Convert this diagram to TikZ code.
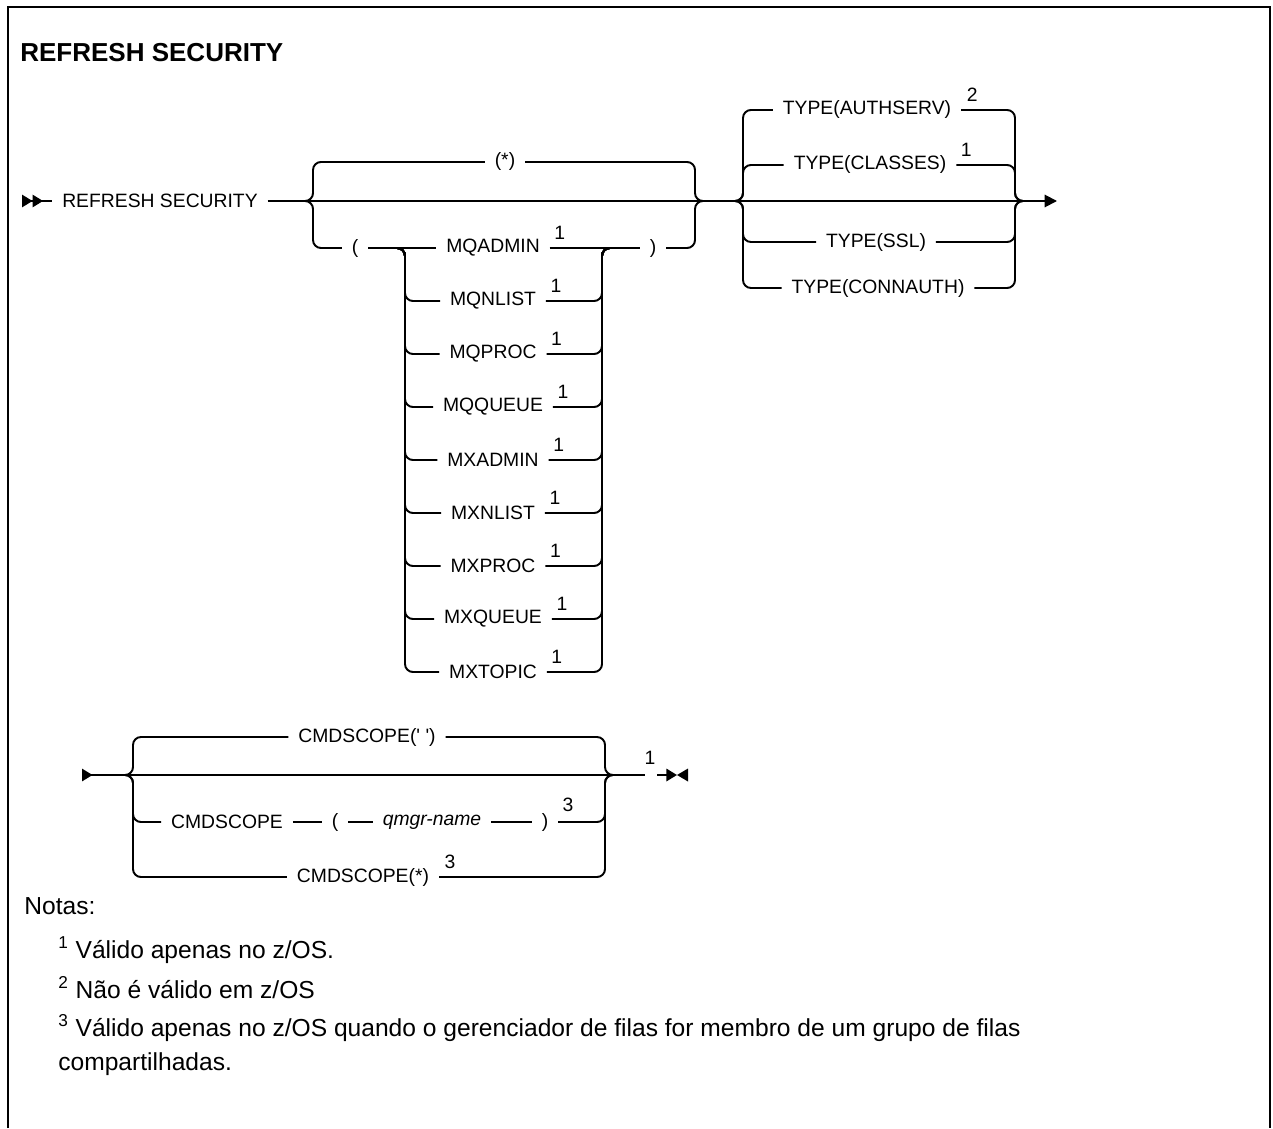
\documentclass[tikz,border=0pt]{standalone}
\usepackage{fontspec}
\setmainfont{Liberation Sans}
\usetikzlibrary{positioning,arrows.meta,calc}
\newcommand{\kwfont}{\fontsize{11}{13}\selectfont}
\tikzset{
  rail/.style={line width=1.1pt, rounded corners=4.5pt},
  kw/.style={font=\kwfont, inner xsep=5.5pt, inner ysep=0pt},
  fn/.style={font=\kwfont, inner sep=0pt},
  head/.style={font=\fontsize{14.8}{17}\selectfont\bfseries, inner sep=0pt, anchor=west},
  note/.style={font=\fontsize{14}{16}\selectfont, inner sep=0pt, anchor=base west},
  starttip/.style={{Triangle[reversed,length=6pt,width=7pt]Triangle[reversed,length=6pt,width=7pt]}-},
  endtip/.style={-{Triangle[length=7pt,width=7pt]}}
}
\begin{document}
\begin{tikzpicture}[x=0.02cm, y=-0.02cm]
  \useasboundingbox (0,0) rectangle (1273,1128);
  \draw[line width=1.4pt] (8,1128) -- (8,7) -- (1270,7) -- (1270,1128);

  \node[head] (title) at (20,53) {REFRESH SECURITY};

  % first line
  \coordinate (st) at (22,201);
  \node[kw] (cmd) at (160,201) {REFRESH SECURITY};
  \coordinate (g1l) at (313,201);
  \coordinate (g1r) at (695,201);
  \coordinate (g2l) at (743,201);
  \coordinate (g2r) at (1015,201);
  \coordinate (endp) at (1057,201);
  \draw[rail, starttip] (st) -- (cmd.west);
  \draw[rail, endtip] (cmd.east) -- (g1l) -- (g1r) -- (g2l) -- (g2r) -- (endp);

  \node[kw] (star) at (505,162) {(*)};
  \draw[rail] (star.west) -| (g1l) -- ++(-8,0);
  \draw[rail] (star.east) -| (g1r) -- ++(8,0);

  \node[kw] (lp) at (355,248) {(};
  \node[kw] (rp) at (653,248) {)};
  \draw[rail] (lp.west) -| (g1l) -- ++(-8,0);
  \draw[rail] (rp.east) -| (g1r) -- ++(8,0);

  \coordinate (il) at (405,248);
  \coordinate (ir) at (602,248);
  \node[kw] (mqadmin) at (493,248) {MQADMIN};
  \node[fn] (n1a) at ($(mqadmin.east)+(10,-15)$) {1};
  \draw[rail] (lp.east) -- (mqadmin.west);
  \draw[rail] (mqadmin.east) -- (rp.west);

  \node[kw] (mqnlist) at (493,301) {MQNLIST};
  \node[fn] (n1b) at ($(mqnlist.east)+(10,-15)$) {1};
  \draw[rail] (mqnlist.west) -| (il) -- ++(-8,0);
  \draw[rail] (mqnlist.east) -| (ir) -- ++(8,0);
  \node[kw] (mqproc) at (493,354) {MQPROC};
  \node[fn] (n1c) at ($(mqproc.east)+(10,-15)$) {1};
  \draw[rail] (mqproc.west) -| (il) -- ++(-8,0);
  \draw[rail] (mqproc.east) -| (ir) -- ++(8,0);
  \node[kw] (mqqueue) at (493,407) {MQQUEUE};
  \node[fn] (n1d) at ($(mqqueue.east)+(10,-15)$) {1};
  \draw[rail] (mqqueue.west) -| (il) -- ++(-8,0);
  \draw[rail] (mqqueue.east) -| (ir) -- ++(8,0);
  \node[kw] (mxadmin) at (493,460) {MXADMIN};
  \node[fn] (n1e) at ($(mxadmin.east)+(10,-15)$) {1};
  \draw[rail] (mxadmin.west) -| (il) -- ++(-8,0);
  \draw[rail] (mxadmin.east) -| (ir) -- ++(8,0);
  \node[kw] (mxnlist) at (493,513) {MXNLIST};
  \node[fn] (n1f) at ($(mxnlist.east)+(10,-15)$) {1};
  \draw[rail] (mxnlist.west) -| (il) -- ++(-8,0);
  \draw[rail] (mxnlist.east) -| (ir) -- ++(8,0);
  \node[kw] (mxproc) at (493,566) {MXPROC};
  \node[fn] (n1g) at ($(mxproc.east)+(10,-15)$) {1};
  \draw[rail] (mxproc.west) -| (il) -- ++(-8,0);
  \draw[rail] (mxproc.east) -| (ir) -- ++(8,0);
  \node[kw] (mxqueue) at (493,619) {MXQUEUE};
  \node[fn] (n1h) at ($(mxqueue.east)+(10,-15)$) {1};
  \draw[rail] (mxqueue.west) -| (il) -- ++(-8,0);
  \draw[rail] (mxqueue.east) -| (ir) -- ++(8,0);
  \node[kw] (mxtopic) at (493,672) {MXTOPIC};
  \node[fn] (n1i) at ($(mxtopic.east)+(10,-15)$) {1};
  \draw[rail] (mxtopic.west) -| (il) -- ++(-8,0);
  \draw[rail] (mxtopic.east) -| (ir) -- ++(8,0);

  % TYPE
  \node[kw] (authserv) at (867,110) {TYPE(AUTHSERV)};
  \node[fn] (n2a) at ($(authserv.east)+(11,-15)$) {2};
  \draw[rail] (authserv.west) -| (g2l) -- ++(-8,0);
  \draw[rail] (authserv.east) -| (g2r) -- ++(8,0);
  \node[kw] (classes) at (870,165) {TYPE(CLASSES)};
  \node[fn] (n1j) at ($(classes.east)+(10,-15)$) {1};
  \draw[rail] (classes.west) -| (g2l) -- ++(-8,0);
  \draw[rail] (classes.east) -| (g2r) -- ++(8,0);
  \node[kw] (ssl) at (876,242) {TYPE(SSL)};
  \draw[rail] (ssl.west) -| (g2l) -- ++(-8,0);
  \draw[rail] (ssl.east) -| (g2r) -- ++(8,0);
  \node[kw] (connauth) at (878,288) {TYPE(CONNAUTH)};
  \draw[rail] (connauth.west) -| (g2l) -- ++(-8,0);
  \draw[rail] (connauth.east) -| (g2r) -- ++(8,0);

  % second line
  \coordinate (st2) at (82,775);
  \coordinate (g3l) at (133,775);
  \coordinate (g3r) at (605,775);
  \coordinate (e1) at (645,775);
  \coordinate (e2) at (657,775);
  \coordinate (e3) at (677,775);
  \draw[rail, {Triangle[reversed,length=6pt,width=7pt]}-] (st2) -- (g3l) -- (g3r) -- (e1);
  \node[fn] (n1k) at (650,758) {1};
  \draw[line width=1.1pt, -{Triangle[length=6pt,width=7pt]}] (e2) -- (e3);
  \fill (e3) -- ++(11,-6.5) -- ++(0,13) -- cycle;

  \node[kw] (blank) at (367,737) {CMDSCOPE(\textquotesingle\ \textquotesingle)};
  \draw[rail] (blank.west) -| (g3l) -- ++(-8,0);
  \draw[rail] (blank.east) -| (g3r) -- ++(8,0);

  \node[kw] (cs) at (227,822) {CMDSCOPE};
  \node[kw] (lp2) at (335,822) {(};
  \node[kw, font=\kwfont\itshape] (qmgr) at (432,822) {qmgr-name};
  \node[kw] (rp2) at (545,822) {)};
  \node[fn] (n3a) at (568,805) {3};
  \draw[rail] (cs.west) -| (g3l) -- ++(-8,0);
  \draw[rail] (cs.east) -- (lp2.west);
  \draw[rail] (lp2.east) -- (qmgr.west);
  \draw[rail] (qmgr.east) -- (rp2.west);
  \draw[rail] (rp2.east) -| (g3r) -- ++(8,0);

  \node[kw] (csall) at (363,877) {CMDSCOPE(*)};
  \node[fn] (n3b) at ($(csall.east)+(11,-15)$) {3};
  \draw[rail] (csall.west) -| (g3l) -- ++(-8,0);
  \draw[rail] (csall.east) -| (g3r) -- ++(8,0);

  % notes
  \node[note] (notas) at (24,914) {Notas:};
  \node[note] (note1) at (58,958) {\textsuperscript{1} Válido apenas no z/OS.};
  \node[note] (note2) at (58,998) {\textsuperscript{2} Não é válido em z/OS};
  \node[note] (note3) at (58,1036) {\textsuperscript{3} Válido apenas no z/OS quando o gerenciador de filas for membro de um grupo de filas};
  \node[note] (note3b) at (58,1070) {compartilhadas.};
\end{tikzpicture}
\end{document}
